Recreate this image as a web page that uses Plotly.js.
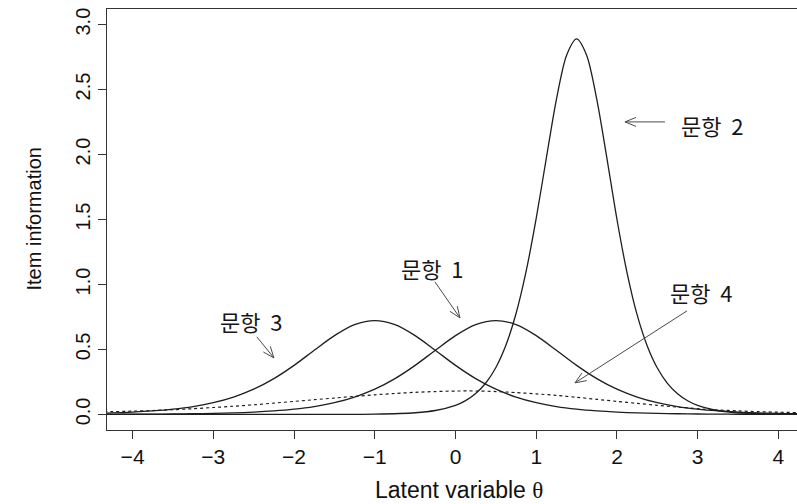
<!DOCTYPE html>
<html><head><meta charset="utf-8">
<script src="https://cdn.plot.ly/plotly-3.0.1.min.js"></script>
<style>body{margin:0;background:#fff}</style>
</head><body><div id="chart" style="width:797px;height:504px"></div>
<script>
// ---- data ----
const theta = [-4.5,-4.25,-4,-3.75,-3.5,-3.25,-3,-2.75,-2.5,-2.25,-2,-1.75,-1.5,-1.25,-1,-0.75,-0.5,-0.25,0,0.25,0.5,0.75,1,1.25,1.5,1.75,2,2.25,2.5,2.75,3,3.25,3.5,3.75,4,4.25,4.5];
const item1 = [0.0006,0.0009,0.0014,0.0021,0.0032,0.0049,0.0075,0.0114,0.0174,0.0265,0.0401,0.0604,0.0903,0.1335,0.1941,0.2754,0.3774,0.4933,0.6063,0.6909,0.7225,0.6909,0.6063,0.4933,0.3774,0.2754,0.1941,0.1335,0.0903,0.0604,0.0401,0.0265,0.0174,0.0114,0.0075,0.0049,0.0032];
const item3 = [0.0075,0.0114,0.0174,0.0265,0.0401,0.0604,0.0903,0.1335,0.1941,0.2754,0.3774,0.4933,0.6063,0.6909,0.7225,0.6909,0.6063,0.4933,0.3774,0.2754,0.1941,0.1335,0.0903,0.0604,0.0401,0.0265,0.0174,0.0114,0.0075,0.0049,0.0032,0.0021,0.0014,0.0009,0.0006,0.0004,0.0003];
const item4 = [0.018,0.021,0.025,0.030,0.036,0.044,0.053,0.063,0.074,0.087,0.100,0.113,0.126,0.139,0.151,0.161,0.170,0.176,0.180,0.180,0.176,0.168,0.158,0.146,0.132,0.116,0.100,0.085,0.070,0.056,0.044,0.034,0.027,0.021,0.017,0.014,0.011];
const theta2 = [-4.5,-4,-3.5,-3,-2.5,-2,-1.5,-1,-0.5,-0.25,0,0.125,0.25,0.375,0.5,0.625,0.75,0.875,1,1.125,1.25,1.375,1.5,1.625,1.75,1.875,2,2.125,2.25,2.375,2.5,2.625,2.75,2.875,3,3.25,3.5,4,4.5];
const item2 = [0,0,0,0,0,0.0001,0.0004,0.0023,0.0129,0.0300,0.0696,0.1058,0.1603,0.2416,0.3613,0.534,0.7765,1.102,1.510,1.973,2.425,2.763,2.890,2.763,2.425,1.973,1.500,1.090,0.766,0.527,0.357,0.2390,0.1590,0.1050,0.0690,0.0300,0.0129,0.0023,0.0004];
const xTicks = [-4,-3,-2,-1,0,1,2,3,4];
const yTicks = [0,0.5,1,1.5,2,2.5,3];
const yTickText = ['0.0','0.5','1.0','1.5','2.0','2.5','3.0'];
const itemLabels = ['문항\u00A0\u00A01','문항\u00A0\u00A02','문항\u00A0\u00A03','문항\u00A0\u00A04'];
const xTitle = 'Latent variable <span style="font-family:\'Liberation Serif\',serif">θ</span>';
const yTitle = 'Item information';

// ---- layout geometry ----
const W = 797, H = 504;
const M = {l:107, r:0, t:9, b:74};
const xRange = [-4.317, 4.23];
const yRange = [-0.12, 3.12];
const kx = (W - M.l - M.r) / (xRange[1] - xRange[0]);
const ky = (H - M.t - M.b) / (yRange[1] - yRange[0]);

const lineStyle = {color:'#1e1e1e', width:1.3};
const traces = [
  {x:theta, y:item1, name:itemLabels[0], mode:'lines', line:Object.assign({shape:'spline', smoothing:0.8}, lineStyle)},
  {x:theta2, y:item2, name:itemLabels[1], mode:'lines', line:Object.assign({shape:'spline', smoothing:0.8}, lineStyle)},
  {x:theta, y:item3, name:itemLabels[2], mode:'lines', line:Object.assign({shape:'spline', smoothing:0.8}, lineStyle)},
  {x:theta, y:item4, name:itemLabels[3], mode:'lines', line:{color:'#1e1e1e', width:1.2, dash:'dot', shape:'spline', smoothing:0.8}}
];

// label positions (data coords) and arrows (tail -> head)
const labelPos = [[-0.28,1.128],[3.178,2.227],[-2.523,0.72],[3.042,0.943]];
const arrows = [
  {tail:[-0.255,1.020], head:[0.055,0.743]},
  {tail:[2.594,2.251], head:[2.099,2.251]},
  {tail:[-2.461,0.597], head:[-2.250,0.435]},
  {tail:[2.868,0.797], head:[1.480,0.243]}
];

const shapes = [];
const arrowColor = '#4a4a4a';
arrows.forEach(a => {
  shapes.push({type:'line', xref:'x', yref:'y', x0:a.tail[0], y0:a.tail[1], x1:a.head[0], y1:a.head[1], line:{color:arrowColor, width:1}});
  const dx = (a.tail[0]-a.head[0])*kx, dy = -(a.tail[1]-a.head[1])*ky;
  const len = Math.hypot(dx, dy), ux = dx/len, uy = dy/len;
  const L = 12, ang = 22*Math.PI/180;
  [ang, -ang].forEach(t => {
    const rx = ux*Math.cos(t) - uy*Math.sin(t), ry = ux*Math.sin(t) + uy*Math.cos(t);
    shapes.push({type:'line', xref:'x', yref:'y', x0:a.head[0], y0:a.head[1],
      x1:a.head[0] + rx*L/kx, y1:a.head[1] - ry*L/ky, line:{color:arrowColor, width:1}});
  });
});

const annotations = itemLabels.map((t,i) => ({
  x:labelPos[i][0], y:labelPos[i][1], xref:'x', yref:'y', text:t, showarrow:false,
  xanchor:'center', yanchor:'middle',
  font:{family:'Noto Sans CJK KR, sans-serif', size:22, color:'#161616'}
}));
annotations.push({xref:'paper', yref:'paper', x:(459-M.l)/(W-M.l-M.r), y:(H-M.b-490)/(H-M.t-M.b),
  text:xTitle, showarrow:false, xanchor:'center', yanchor:'middle',
  font:{family:'Liberation Sans, Arial, sans-serif', size:23, color:'#111'}});
annotations.push({xref:'paper', yref:'paper', x:(33-M.l)/(W-M.l-M.r), y:0.5,
  text:yTitle, showarrow:false, xanchor:'center', yanchor:'middle', textangle:-90,
  font:{family:'Liberation Sans, Arial, sans-serif', size:20, color:'#111'}});

const layout = {
  width:W, height:H, margin:M, showlegend:false,
  paper_bgcolor:'#fff', plot_bgcolor:'#fff',
  xaxis:{range:xRange, tickvals:xTicks, ticks:'outside', ticklen:8, tickwidth:1, tickcolor:'#333',
    showline:true, linecolor:'#333', linewidth:1.2, mirror:true, showgrid:false, zeroline:false,
    tickfont:{family:'Liberation Sans, Arial, sans-serif', size:21, color:'#111'}},
  yaxis:{range:yRange, tickvals:yTicks, ticktext:yTickText, tickangle:-90, ticks:'outside', ticklen:8, tickwidth:1, tickcolor:'#333',
    showline:true, linecolor:'#333', linewidth:1.2, mirror:false, showgrid:false, zeroline:false,
    tickfont:{family:'Liberation Sans, Arial, sans-serif', size:20, color:'#111'}},
  shapes:shapes, annotations:annotations
};
Plotly.newPlot('chart', traces, layout, {staticPlot:true, displayModeBar:false});
</script></body></html>
